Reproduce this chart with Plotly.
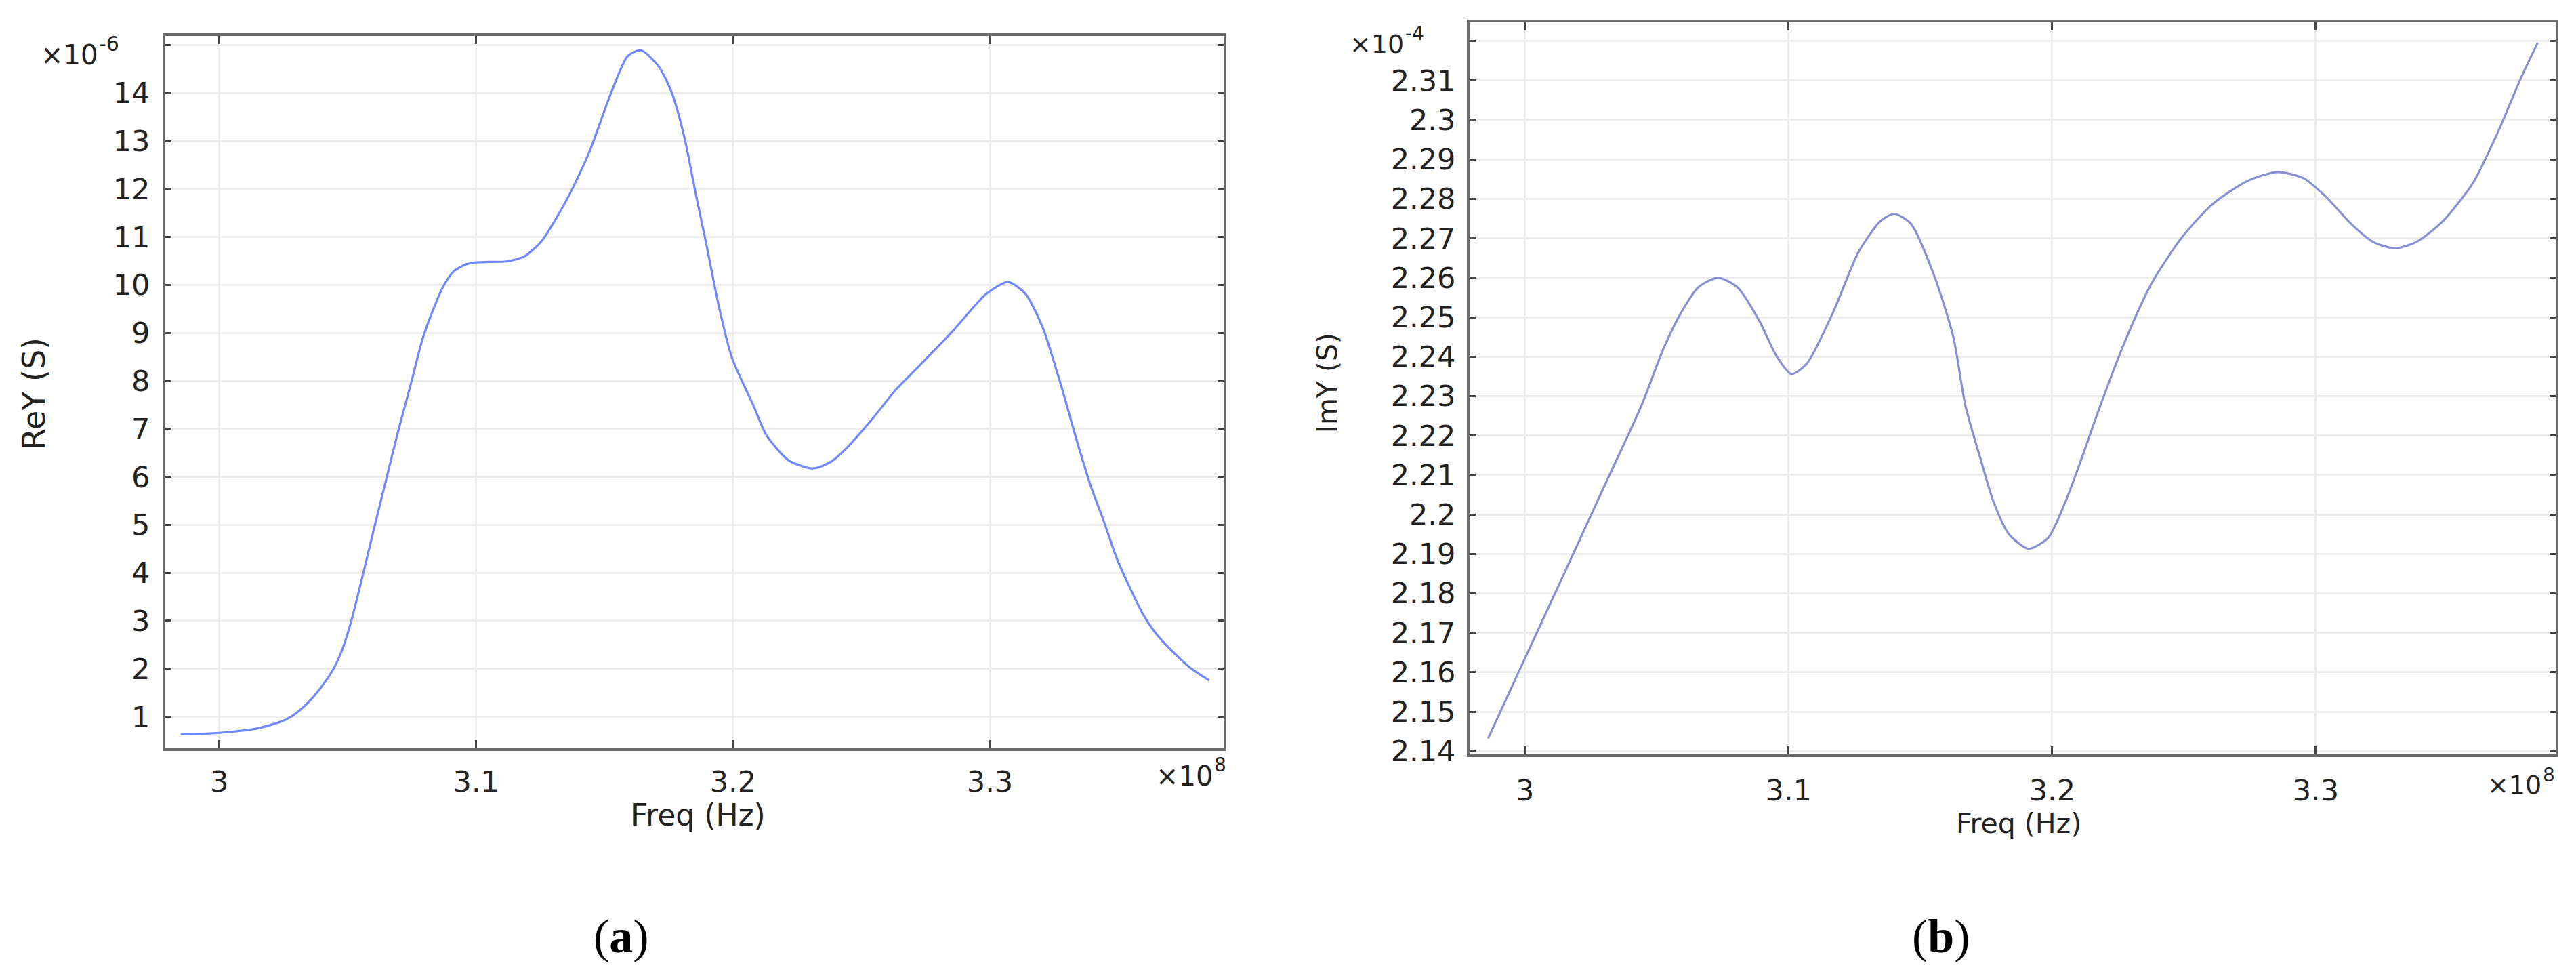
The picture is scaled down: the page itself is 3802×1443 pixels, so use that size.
import plotly.graph_objects as go

# ---------------- data (frequency in 1e8 Hz) ----------------
freq_a = [2.985, 2.995, 3.005, 3.015, 3.025, 3.030, 3.035, 3.040, 3.0445, 3.048,
          3.0513, 3.056, 3.0605, 3.065, 3.0695, 3.0745, 3.079, 3.083, 3.087, 3.091,
          3.0955, 3.100, 3.105, 3.1119, 3.1186, 3.1254, 3.1354, 3.1439, 3.1523, 3.159,
          3.1642, 3.171, 3.176, 3.1811, 3.1853, 3.1895, 3.1945, 3.1996, 3.208, 3.2131,
          3.2215, 3.2299, 3.2334, 3.2383, 3.2435, 3.2535, 3.2636, 3.2717, 3.2852, 3.2987,
          3.3071, 3.3138, 3.3205, 3.3272, 3.3343, 3.3394, 3.3444, 3.3494, 3.3545, 3.3596,
          3.3646, 3.3717, 3.3778, 3.3853]
rey_a = [0.64, 0.65, 0.69, 0.76, 0.92, 1.08, 1.32, 1.64, 2.0, 2.42,
         2.98, 3.98, 4.98, 5.95, 6.92, 7.92, 8.85, 9.45, 9.95, 10.27,
         10.42, 10.47, 10.48, 10.49, 10.59, 10.91, 11.79, 12.75, 13.97, 14.77,
         14.89, 14.56, 14.03, 13.07, 11.95, 10.88, 9.55, 8.48, 7.48, 6.86,
         6.35, 6.18, 6.20, 6.32, 6.56, 7.16, 7.83, 8.27, 9.02, 9.82,
         10.06, 9.82, 9.12, 8.0, 6.67, 5.79, 5.07, 4.30, 3.69, 3.14,
         2.74, 2.33, 2.03, 1.76]

freq_b = [2.986, 3.000, 3.015, 3.030, 3.044, 3.0526, 3.0592, 3.0658, 3.0732, 3.0806,
          3.0888, 3.0954, 3.1011, 3.1069, 3.1168, 3.1266, 3.1349, 3.1401, 3.1464, 3.155,
          3.1625, 3.1671, 3.1729, 3.1778, 3.1836, 3.191, 3.1984, 3.2049, 3.2115, 3.2181,
          3.228, 3.2378, 3.2493, 3.2609, 3.274, 3.2855, 3.2954, 3.3036, 3.3135, 3.3217,
          3.330, 3.3382, 3.348, 3.3595, 3.3694, 3.3776, 3.3842]
imy_b = [2.1432, 2.1635, 2.1852, 2.2070, 2.2273, 2.2421, 2.2511, 2.2576, 2.2600, 2.2576,
         2.2492, 2.2402, 2.2356, 2.2382, 2.2511, 2.2666, 2.2744, 2.2762, 2.2737, 2.2610,
         2.2450, 2.2275, 2.2139, 2.2031, 2.1950, 2.1913, 2.1940, 2.2030, 2.2148, 2.2273,
         2.2445, 2.2587, 2.2703, 2.2787, 2.2845, 2.2868, 2.2852, 2.2807, 2.2736, 2.2691,
         2.2675, 2.2691, 2.2742, 2.2839, 2.2974, 2.3103, 2.3196]

x_tickvals = [3.0, 3.1, 3.2, 3.3]
x_ticktext = ["3", "3.1", "3.2", "3.3"]
ya_tickvals = list(range(1, 16))
ya_ticktext = [str(v) for v in range(1, 15)] + [""]
yb_tickvals = [round(2.14 + 0.01 * i, 2) for i in range(19)]
yb_ticktext = [("%g" % v) for v in yb_tickvals[:-1]] + [""]

W, H = 3802, 1443
FONT = "DejaVu Sans"
TXT = "#222222"

def px_x(p):
    return p / W

def px_y(p):
    return 1 - p / H

fig = go.Figure()
fig.add_trace(go.Scatter(x=freq_a, y=rey_a, mode="lines", xaxis="x", yaxis="y",
                         line=dict(color="#7088ff", width=3.2, shape="spline", smoothing=0.7),
                         showlegend=False, hoverinfo="skip"))
fig.add_trace(go.Scatter(x=freq_b, y=imy_b, mode="lines", xaxis="x2", yaxis="y2",
                         line=dict(color="#8790d2", width=3.2, shape="spline", smoothing=0.7),
                         showlegend=False, hoverinfo="skip"))

common_axis = dict(showline=True, mirror="allticks", linecolor="#6a6a6a", linewidth=4,
                   showgrid=True, gridcolor="#ececec", gridwidth=3, zeroline=False,
                   ticks="inside", tickcolor="#444444", tickwidth=3,
                   tickfont=dict(family=FONT, size=43, color=TXT))

fig.update_layout(
    width=W, height=H, autosize=False,
    margin=dict(l=0, r=0, t=0, b=0),
    paper_bgcolor="white", plot_bgcolor="white",
    xaxis=dict(domain=[px_x(236), px_x(1798)], range=[2.979, 3.391], anchor="y",
               tickvals=x_tickvals, ticktext=x_ticktext, ticklen=12, ticklabelstandoff=9,
               **common_axis),
    yaxis=dict(domain=[px_y(1111), px_y(46)], range=[0.35, 15.185], anchor="x",
               tickvals=ya_tickvals, ticktext=ya_ticktext, ticklen=9, ticklabelstandoff=10,
               **common_axis),
    xaxis2=dict(domain=[px_x(2161), px_x(3764)], range=[2.979, 3.391], anchor="y2",
                tickvals=x_tickvals, ticktext=x_ticktext, ticklen=12, ticklabelstandoff=12,
                **common_axis),
    yaxis2=dict(domain=[px_y(1121), px_y(25)], range=[2.1391, 2.3248], anchor="x2",
                tickvals=yb_tickvals, ticktext=yb_ticktext, ticklen=9, ticklabelstandoff=8,
                **common_axis),
)

def ann(text, x, y, size, xanchor="center", yanchor="middle", angle=0, family=FONT, color=TXT):
    fig.add_annotation(text=text, x=px_x(x), y=px_y(y), xref="paper", yref="paper",
                       xanchor=xanchor, yanchor=yanchor, showarrow=False, textangle=angle,
                       font=dict(family=family, size=size, color=color))

# axis titles
ann("Freq (Hz)", 1022, 1211, 44)
ann("Freq (Hz)", 2971, 1224, 41)
ann("ReY (S)", 42, 581, 46, angle=-90)
ann("ImY (S)", 1951, 565, 41, angle=-90)

# exponent labels
ann("×10", 138, 74, 40, xanchor="right")
ann("-6", 136, 57, 30, xanchor="left")
ann("×10", 2066, 58, 38, xanchor="right")
ann("-4", 2064, 42, 28, xanchor="left")
ann("×10", 1784, 1153, 40, xanchor="right")
ann("8", 1782, 1136, 28, xanchor="left")
ann("×10", 3745, 1166, 38, xanchor="right")
ann("8", 3743, 1151, 28, xanchor="left")

# panel labels
ann("(<b>a</b>)", 909, 1393, 70, family="Liberation Serif", color="#000000")
ann("(<b>b</b>)", 2857, 1393, 70, family="Liberation Serif", color="#000000")

fig.write_html("out.html")
